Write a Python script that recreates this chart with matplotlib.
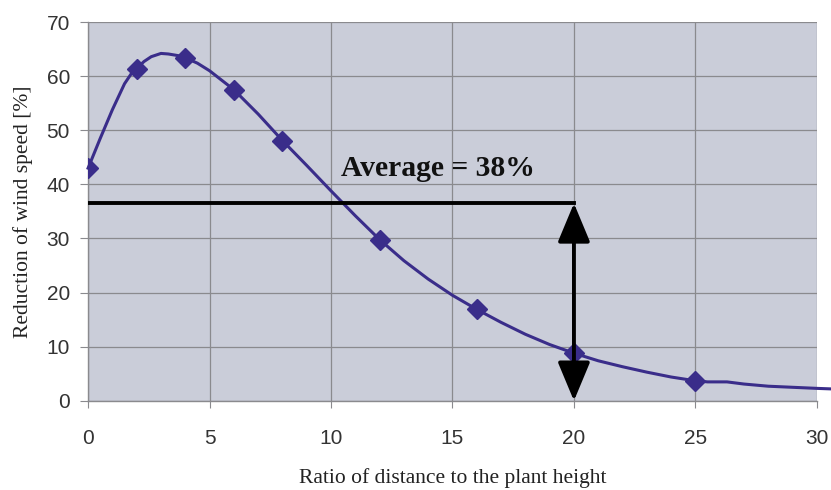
import matplotlib.pyplot as plt

# measured points (markers)
x_pts = [0, 2, 4, 6, 8, 12, 16, 20, 25]
y_pts = [43, 61.4, 63.4, 57.5, 48.1, 29.8, 16.9, 8.8, 3.7]

# points
x_curve = [0, 0.5, 1, 1.5, 1.8, 2, 2.3, 2.6, 3, 3.3, 3.7, 4, 4.5, 5, 6, 7, 8, 9, 10, 11,
           12, 13, 14, 15, 16, 17, 18, 19, 20, 21, 22, 23, 24, 25, 25.5, 26.3, 27, 28, 29,
           30, 30.6]
y_curve = [43, 48.5, 53.8, 58.6, 60.6, 61.4, 62.7, 63.6, 64.2, 64.1, 63.8, 63.4, 62.4, 61,
           57.5, 53, 48.1, 43.5, 38.8, 34.2, 29.8, 25.9, 22.5, 19.5, 16.9, 14.5, 12.3, 10.4,
           8.8, 7.4, 6.3, 5.3, 4.4, 3.7, 3.5, 3.5, 3.1, 2.7, 2.5, 2.3, 2.2]

avg_level = 36.5
avg_end = 20
avg_label = "Average = 38%"

x_ticks = [0, 5, 10, 15, 20, 25, 30]
y_ticks = [0, 10, 20, 30, 40, 50, 60, 70]

line_color = "#3a2d8a"

fig = plt.figure(figsize=(8.31, 4.90), dpi=100)
ax = fig.add_axes([0.106, 0.182, 0.877, 0.773])
ax.set_facecolor("#cacdd9")

ax.plot(x_curve, y_curve, color=line_color, lw=2.2, clip_on=False, zorder=3,
        solid_joinstyle="round")
ax.plot(x_pts, y_pts, ls="none", marker="D", ms=10, color=line_color, zorder=4)

# average line and double arrow
ax.plot([0, avg_end], [avg_level, avg_level], color="black", lw=2.8, zorder=5)
ax.annotate("", xy=(avg_end, avg_level), xytext=(avg_end, 0),
            arrowprops=dict(arrowstyle="<|-|>,head_length=1.2,head_width=0.5",
                            mutation_scale=20, color="black", lw=2.8,
                            shrinkA=0, shrinkB=0),
            zorder=6, annotation_clip=False)
ax.text(10.4, 42.9, avg_label, fontsize=21.3, fontweight="bold",
        family="Liberation Serif", va="center", ha="left", color="#111111")

ax.set_xlim(0, 30)
ax.set_ylim(0, 70)
ax.set_xticks(x_ticks)
ax.set_yticks(y_ticks)
ax.grid(True, color="#8a8a8e", lw=0.9)
ax.set_axisbelow(True)

for s in ["top", "right"]:
    ax.spines[s].set_visible(False)
for s in ["left", "bottom"]:
    ax.spines[s].set_color("#8a8a8e")
    ax.spines[s].set_linewidth(1.0)

ax.tick_params(axis="x", length=5, pad=15, color="#8a8a8e",
               labelsize=15, labelcolor="#333333")
ax.tick_params(axis="y", length=6, pad=7, color="#8a8a8e",
               labelsize=15, labelcolor="#333333")
for lab in ax.get_xticklabels() + ax.get_yticklabels():
    lab.set_family("Liberation Sans")

ax.set_xlabel("Ratio of distance to the plant height", family="Liberation Serif",
              fontsize=15.5, color="#222222", labelpad=15)
ax.set_ylabel("Reduction of wind speed [%]", family="Liberation Serif",
              fontsize=15.5, color="#222222", labelpad=10)

fig.savefig("out.png", dpi=100)
